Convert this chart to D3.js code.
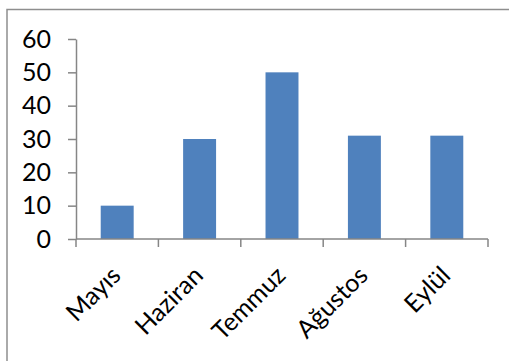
<!DOCTYPE html>
<html>
<head>
<meta charset="utf-8">
<script src="https://cdn.jsdelivr.net/npm/d3@7/dist/d3.min.js"></script>
<style>
  html, body { margin: 0; padding: 0; background: #fff; }
  svg { display: block; }
  text { font-family: Lato, "Open Sans", sans-serif; fill: #000; }
</style>
</head>
<body>
<svg id="chart" width="509" height="361"></svg>
<script>
// Monthly values
const categories = ["Mayıs", "Haziran", "Temmuz", "Ağustos", "Eylül"];
const values = [10, 30, 50, 31, 31];
const yTicks = [0, 10, 20, 30, 40, 50, 60];

const plot = { left: 76, right: 488, top: 39, bottom: 239 };
const fontSize = "25px";
const svg = d3.select("#chart");

// Chart area frame (extends past the visible window on the right and bottom)
svg.append("rect")
  .attr("x", 7).attr("y", 9.5)
  .attr("width", 560).attr("height", 420)
  .attr("fill", "none")
  .attr("stroke", "#8e8e8e")
  .attr("stroke-width", 1.5);

const x = d3.scaleBand().domain(categories).range([plot.left, plot.right]).padding(0);
const y = d3.scaleLinear().domain([0, 60]).range([plot.bottom, plot.top]);

// Bars: gap width 150% of bar width
const barW = x.bandwidth() / 2.5;
svg.append("g").selectAll("rect")
  .data(categories.map((c, i) => ({ c, v: values[i] })))
  .join("rect")
  .attr("x", d => x(d.c) + (x.bandwidth() - barW) / 2)
  .attr("y", d => y(d.v))
  .attr("width", barW)
  .attr("height", d => y(0) - y(d.v))
  .attr("fill", "#4f81bd");

const axisColor = "#868686";

// Y axis
const yAxis = svg.append("g")
  .attr("transform", `translate(${plot.left},0)`)
  .call(d3.axisLeft(y).tickValues(yTicks).tickSize(8).tickPadding(17).tickSizeOuter(0));
yAxis.select(".domain").attr("stroke", axisColor).attr("stroke-width", 1.5);
yAxis.selectAll(".tick line").attr("stroke", axisColor).attr("stroke-width", 1.5);
yAxis.selectAll(".tick text")
  .style("font-family", "Lato, 'Open Sans', sans-serif")
  .style("font-size", fontSize)
  .attr("fill", "#000");

// X axis: ticks on category boundaries
const xAxisG = svg.append("g").attr("transform", `translate(0,${plot.bottom})`);
xAxisG.append("line")
  .attr("x1", plot.left).attr("x2", plot.right)
  .attr("stroke", axisColor).attr("stroke-width", 1.5);
const bounds = categories.map(c => x(c)).concat([x(categories[categories.length - 1]) + x.bandwidth()]);
xAxisG.selectAll("line.tk")
  .data(bounds)
  .join("line")
  .attr("class", "tk")
  .attr("x1", d => d).attr("x2", d => d)
  .attr("y1", 0).attr("y2", 8)
  .attr("stroke", axisColor).attr("stroke-width", 1.5);

// Rotated category labels, anchored at the end of the baseline
xAxisG.selectAll("text")
  .data(categories)
  .join("text")
  .attr("transform", d => `translate(${x(d) + x.bandwidth() / 2 + 5},${38}) rotate(-45)`)
  .attr("text-anchor", "end")
  .style("font-size", fontSize)
  .text(d => d);
</script>
</body>
</html>
